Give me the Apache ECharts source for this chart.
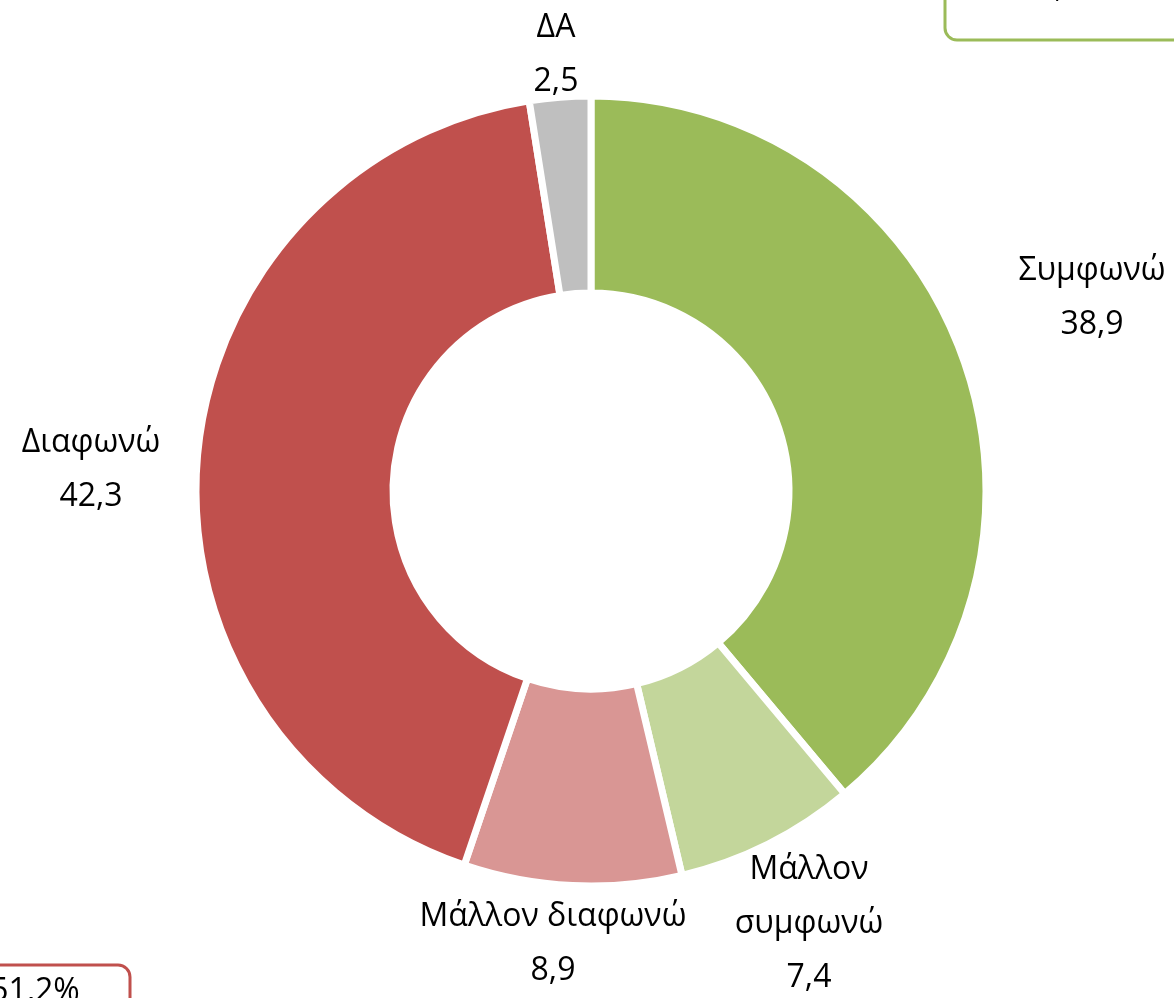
<!DOCTYPE html>
<html>
<head>
<meta charset="utf-8">
<script src="https://cdn.jsdelivr.net/npm/echarts@6/dist/echarts.min.js"></script>
<style>
  html, body { margin: 0; padding: 0; background: #fff; }
  #main { width: 1174px; height: 998px; }
</style>
</head>
<body>
<div id="main"></div>
<script>
const categories = ['Συμφωνώ', 'Μάλλον συμφωνώ', 'Μάλλον διαφωνώ', 'Διαφωνώ', 'ΔΑ']
const values = [38.9, 7.4, 8.9, 42.3, 2.5]
const colors = ['#9BBB59', '#C3D69B', '#D99694', '#C0504D', '#BFBFBF']
const agreeTotal = '46,3%'
const disagreeTotal = '51,2%'

// pie centre and label centres (offsets from the pie centre)
const cx = 591
const cy = 491
const labelOffsets = [[501, -193], [218, 433], [-38, 453], [-500, -21], [-35, -436]]

const fmt = (v) => String(v).replace('.', ',')
const font = '"Open Sans", "Noto Sans", sans-serif'

var myChart = echarts.init(document.getElementById('main'))

var option = {
  animation: false,
  backgroundColor: '#fff',
  graphic: [
    {
      type: 'rect',
      shape: { x: 945, y: -60, width: 260, height: 100, r: 12 },
      style: { fill: 'none', stroke: '#9BBB59', lineWidth: 3 },
    },
    {
      type: 'text',
      style: {
        x: 1063, y: 4, text: agreeTotal, align: 'center', verticalAlign: 'bottom',
        font: '32px ' + font, fill: '#000',
      },
    },
    {
      type: 'rect',
      shape: { x: -60, y: 965, width: 190, height: 100, r: 12 },
      style: { fill: 'none', stroke: '#C0504D', lineWidth: 3 },
    },
    {
      type: 'text',
      style: {
        x: 35, y: 976, text: disagreeTotal, align: 'center', verticalAlign: 'top',
        font: '32px ' + font, fill: '#000',
      },
    },
  ],
  series: [
    {
      type: 'pie',
      center: [cx, cy],
      radius: [198, 395],
      startAngle: 90,
      clockwise: true,
      avoidLabelOverlap: false,
      itemStyle: { borderColor: '#fff', borderWidth: 7 },
      label: {
        show: true,
        position: 'outside',
        color: '#000',
        fontFamily: font,
        fontSize: 32,
        lineHeight: 54,
        formatter: (p) =>
          (p.dataIndex === 1 ? 'Μάλλον\nσυμφωνώ' : p.name) + '\n' + fmt(p.value),
      },
      labelLine: { show: false },
      labelLayout: (params) => {
        const o = labelOffsets[params.dataIndex]
        return { x: cx + o[0], y: cy + o[1], align: 'center', verticalAlign: 'middle' }
      },
      emphasis: { disabled: true },
      data: categories.map((name, i) => ({
        name: name,
        value: values[i],
        itemStyle: { color: colors[i] },
      })),
    },
  ],
}

myChart.setOption(option)
</script>
</body>
</html>
